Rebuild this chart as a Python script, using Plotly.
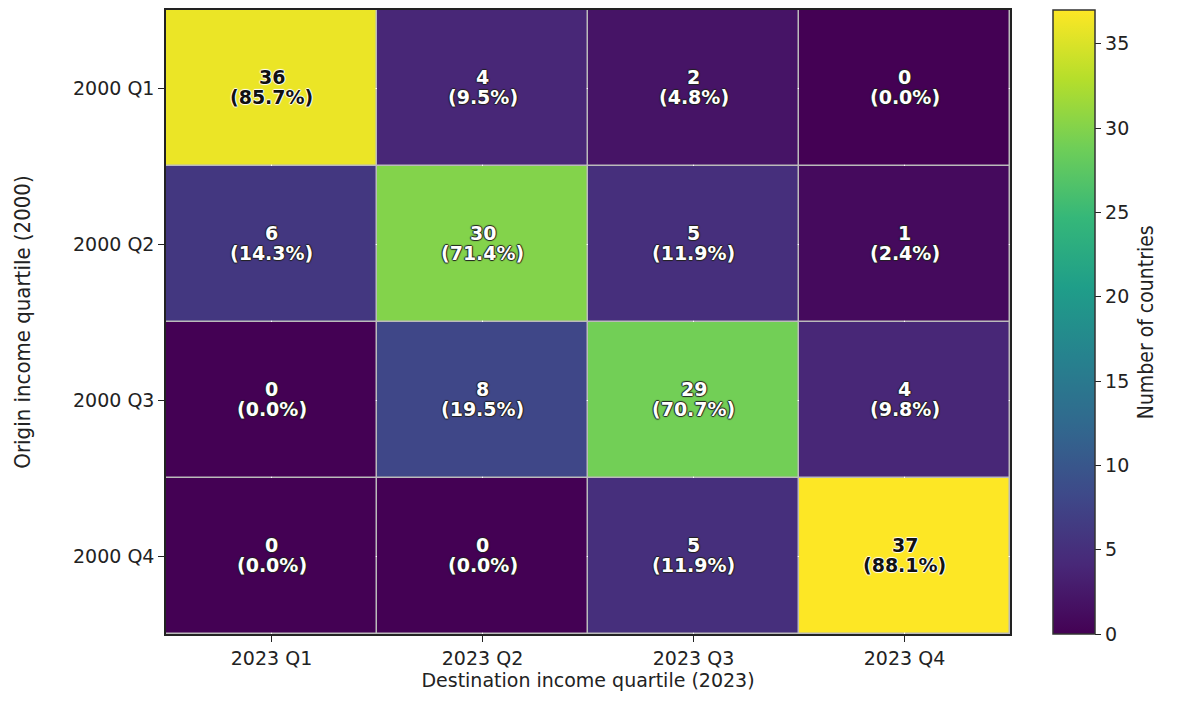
import plotly.graph_objects as go

origin = ["2000 Q1", "2000 Q2", "2000 Q3", "2000 Q4"]
destination = ["2023 Q1", "2023 Q2", "2023 Q3", "2023 Q4"]

row_q1 = [36, 4, 2, 0]
row_q2 = [6, 30, 5, 1]
row_q3 = [0, 8, 29, 4]
row_q4 = [0, 0, 5, 37]

counts = [row_q1, row_q2, row_q3, row_q4]

narrow = "DejaVu Sans Condensed, Liberation Sans Narrow, Noto Sans"

fig = go.Figure()
fig.add_trace(go.Heatmap(
    z=counts, x=destination, y=origin,
    colorscale="Viridis", zmin=0, zmax=37,
    xgap=1.5, ygap=1.5,
    hoverinfo="skip",
    colorbar=dict(
        thickness=42, len=1.0, lenmode="fraction", y=0.5, yanchor="middle", ypad=0,
        x=1.051, xanchor="left", xpad=0, outlinewidth=1.5, outlinecolor="#333",
        ticks="outside", ticklen=6, tickcolor="#222", tickvals=[0, 5, 10, 15, 20, 25, 30, 35],
        tickfont=dict(family="DejaVu Sans", size=19, color="#222"),
    ),
))

# colorbar label placed by hand so it sits further right
fig.add_annotation(x=1.178, y=0.5, xref="paper", yref="paper", text="Number of countries",
                   textangle=-90, showarrow=False,
                   font=dict(family=narrow, size=21, color="#222"))

# two lines per cell: count on top, row share below
for i, row in enumerate(counts):
    total = sum(row)
    for j, v in enumerate(row):
        pct = 100 * v / total
        bright = v > 33
        fc = "#111" if bright else "white"
        sc = "white" if bright else "#222"
        shadow = f"1px 0 1px {sc}, -1px 0 1px {sc}, 0 1px 1px {sc}, 0 -1px 1px {sc}"
        f = dict(family="DejaVu Sans", size=19, color=fc, weight="bold", shadow=shadow)
        fig.add_annotation(x=destination[j], y=origin[i], text=f"{v}",
                           showarrow=False, yshift=11, font=f)
        fig.add_annotation(x=destination[j], y=origin[i], text=f"({pct:.1f}%)",
                           showarrow=False, yshift=-9, font=f)

fig.update_xaxes(
    title=dict(text="Destination income quartile (2023)", standoff=4,
               font=dict(family="DejaVu Sans", size=19, color="#222")),
    showline=True, linecolor="#222", linewidth=1.5, mirror=True,
    ticks="outside", ticklen=6, tickcolor="#222",
    tickfont=dict(family="DejaVu Sans", size=19, color="#222"),
)
fig.update_yaxes(
    title=dict(text="Origin income quartile (2000)", standoff=36,
               font=dict(family=narrow, size=22, color="#222")),
    autorange="reversed",
    showline=True, linecolor="#222", linewidth=1.5, mirror=True,
    ticks="outside", ticklen=6, tickcolor="#222",
    tickfont=dict(family="DejaVu Sans", size=19, color="#222"),
)
fig.update_layout(
    width=1180, height=701,
    margin=dict(l=158, r=178, t=2, b=75, autoexpand=False),
    plot_bgcolor="#bbbbbb", paper_bgcolor="white",
)

fig.write_html("out.html")
